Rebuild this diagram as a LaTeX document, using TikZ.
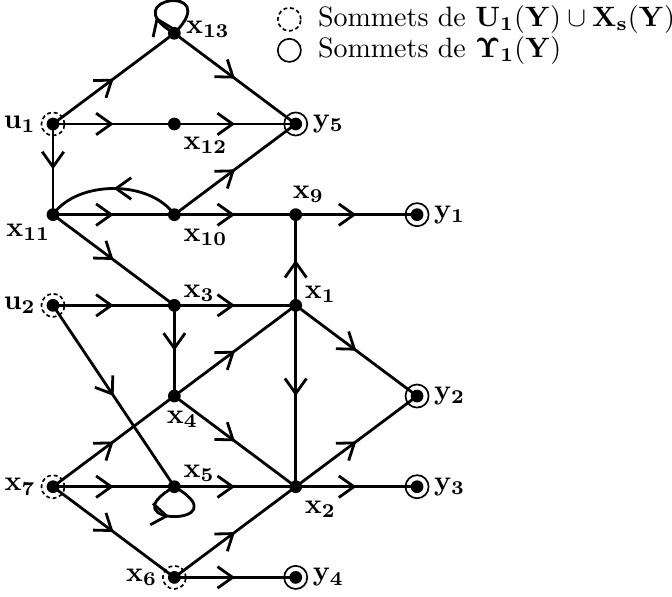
\documentclass[tikz,border=0pt]{standalone}
\usetikzlibrary{arrows.meta, positioning, decorations.markings}

\begin{document}
\begin{tikzpicture}[
    on grid, node distance=1.138cm and 1.523cm,
    pt/.style={circle, fill, inner sep=0pt, minimum size=1.6mm},
    ring/.style={circle, draw, line width=0.6pt, inner sep=0pt, minimum size=2.9mm},
    src/.style={ring, dash pattern=on 1.4pt off 1pt, path picture={\fill (path picture bounding box.center) circle (0.8mm);}},
    sink/.style={ring, path picture={\fill (path picture bounding box.center) circle (0.8mm);}},
    every label/.style={font=\normalsize, inner sep=1pt, label distance=0.5pt},
    arr/.style={line width=1pt, postaction={decorate}, decoration={markings, mark=at position #1 with {\arrow{Straight Barb[length=1.9mm,width=2.7mm]}}}},
    arr/.default=0.5
]
    \useasboundingbox (-0.665,-5.936) rectangle (7.768,1.556);

    \node[src, label=left:$\mathbf{u_1}$] (u1) at (0,0) {};
    \node[pt, right=of u1, label={[yshift=-0.5mm]below right:$\mathbf{x_{12}}$}] (x12) {};
    \node[sink, right=of x12, label=right:$\mathbf{y_5}$] (y5) {};
    \node[pt, above=of x12, label={[yshift=0.5mm]right:$\mathbf{x_{13}}$}] (x13) {};
    \node[pt, below=of u1, label={[xshift=0.8mm]below left:$\mathbf{x_{11}}$}] (x11) {};
    \node[pt, right=of x11, label={[yshift=-0.6mm]below right:$\mathbf{x_{10}}$}] (x10) {};
    \node[pt, right=of x10, label={[xshift=1.6mm]above:$\mathbf{x_9}$}] (x9) {};
    \node[sink, right=of x9, label=right:$\mathbf{y_1}$] (y1) {};
    \node[src, below=of x11, label=left:$\mathbf{u_2}$] (u2) {};
    \node[pt, right=of u2, label={[yshift=-0.7mm]above right:$\mathbf{x_3}$}] (x3) {};
    \node[pt, right=of x3, label={[yshift=-0.8mm]above right:$\mathbf{x_1}$}] (x1) {};
    \node[pt, below=of x3, label={[xshift=1mm, yshift=-0.4mm]below:$\mathbf{x_4}$}] (x4) {};
    \node[sink, below right=of x1, label=right:$\mathbf{y_2}$] (y2) {};
    \node[pt, below=of x4, label={[yshift=-0.5mm]above right:$\mathbf{x_5}$}] (x5) {};
    \node[src, left=of x5, label=left:$\mathbf{x_7}$] (x7) {};
    \node[pt, right=of x5, label={[yshift=-0.6mm]below right:$\mathbf{x_2}$}] (x2) {};
    \node[sink, right=of x2, label=right:$\mathbf{y_3}$] (y3) {};
    \node[src, below=of x5, label=left:$\mathbf{x_6}$] (x6) {};
    \node[sink, right=of x6, label=right:$\mathbf{y_4}$] (y4) {};

    \node[ring, dash pattern=on 1.4pt off 1pt, above right=0.175cm and 1.443cm of x13] (lgsrc) {};
    \node[anchor=west, xshift=0.8mm] (lgsrctxt) at (lgsrc.east) {Sommets de $\mathbf{U_1(Y)}\cup\mathbf{X_s(Y)}$};
    \node[ring, below=0.389cm of lgsrc] (lgsink) {};
    \node[anchor=west, xshift=0.8mm] (lgsinktxt) at (lgsink.east) {Sommets de $\mathbf{\Upsilon_1(Y)}$};

    \draw[arr] (u1.center) -- (x13.center);
    \draw[arr] (u1.center) -- (x12.center);
    \draw[arr] (x12.center) -- (y5.center);
    \draw[arr] (x13.center) -- (y5.center);
    \draw[arr] (u1.center) -- (x11.center);
    \draw[arr] (x11.center) -- (x10.center);
    \draw[arr] (x10.center) -- (x9.center);
    \draw[arr] (x9.center) -- (y1.center);
    \draw[arr] (x10.center) -- (y5.center);
    \draw[arr] (x10.center) to[out=125, in=55, looseness=0.9] (x11.center);
    \draw[arr] (x11.center) -- (x3.center);
    \draw[arr] (u2.center) -- (x3.center);
    \draw[arr] (x3.center) -- (x1.center);
    \draw[arr] (x1.center) -- (x9.center);
    \draw[arr] (x3.center) -- (x4.center);
    \draw[arr] (u2.center) -- (x5.center);
    \draw[arr] (x4.center) -- (x1.center);
    \draw[arr] (x4.center) -- (x2.center);
    \draw[arr] (x1.center) -- (x2.center);
    \draw[arr] (x1.center) -- (y2.center);
    \draw[arr] (x2.center) -- (y2.center);
    \draw[arr] (x7.center) -- (x4.center);
    \draw[arr] (x7.center) -- (x5.center);
    \draw[arr] (x5.center) -- (x2.center);
    \draw[arr] (x2.center) -- (y3.center);
    \draw[arr] (x7.center) -- (x6.center);
    \draw[arr] (x6.center) -- (x2.center);
    \draw[arr] (x6.center) -- (y4.center);
    \draw[arr=0.25] (x13.center) .. controls +(150:0.9) and +(45:0.9) .. (x13.center);
    \draw[arr=0.45] (x5.center) .. controls +(210:1.0) and +(-30:1.0) .. (x5.center);
\end{tikzpicture}
\end{document}
